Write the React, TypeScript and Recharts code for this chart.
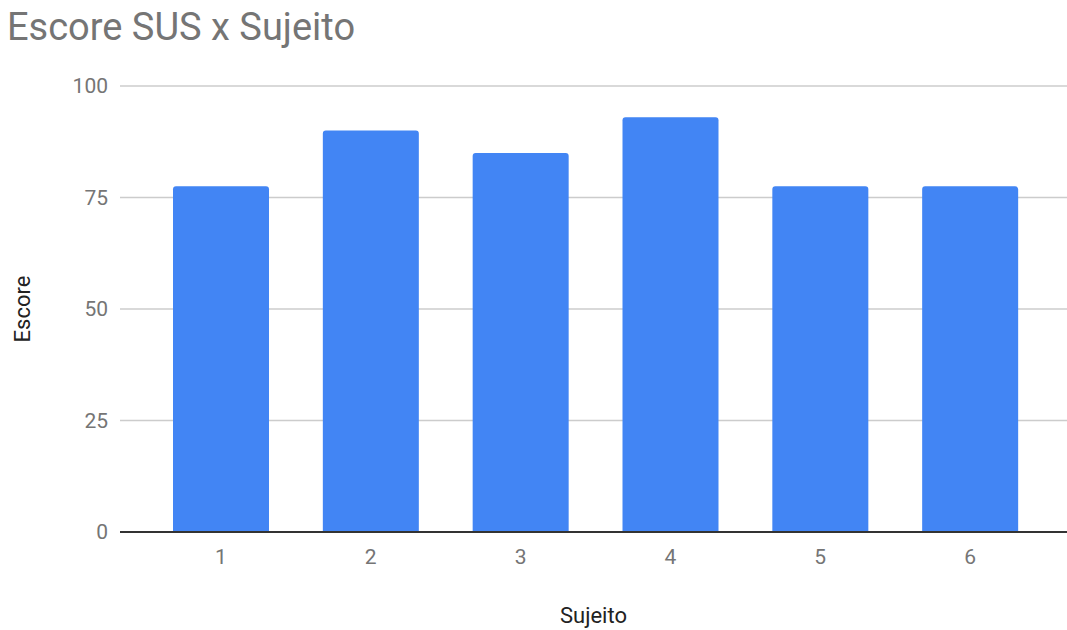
import React from 'react';
import { BarChart, Bar, XAxis, YAxis, CartesianGrid, Label } from 'recharts';

const sujeitos = ['1', '2', '3', '4', '5', '6'];
const escores = [77.5, 90, 85, 93, 77.5, 77.5];
const yTicks = [0, 25, 50, 75, 100];

const data = sujeitos.map((sujeito, i) => ({ sujeito, escore: escores[i] }));

const FONT = 'Roboto, "Noto Sans", sans-serif';

const App: React.FC = () => {
  return (
    <div style={{ position: 'absolute', left: 0, top: 0, width: 1067, height: 630, background: '#fff', fontFamily: FONT }}>
      <div
        style={{
          position: 'absolute',
          left: 7,
          top: 8,
          fontSize: 38,
          lineHeight: '38px',
          color: '#757575',
          whiteSpace: 'nowrap',
        }}
      >
        Escore SUS x Sujeito
      </div>
      <BarChart
        width={1067}
        height={630}
        data={data}
        margin={{ top: 86, right: 0, bottom: 0, left: 0 }}
        barSize={96}
      >
        <CartesianGrid vertical={false} stroke="#cccccc" strokeWidth={1.5} />
        <XAxis
          dataKey="sujeito"
          height={98}
          padding={{ left: 26, right: 22 }}
          tickLine={false}
          axisLine={{ stroke: '#333333', strokeWidth: 2 }}
          tickMargin={11}
          tick={{ fill: '#757575', fontSize: 21, fontFamily: FONT }}
        >
          <Label value="Sujeito" position="insideBottom" offset={7} fill="#222222" fontSize={22} fontFamily={FONT} />
        </XAxis>
        <YAxis
          width={120}
          domain={[0, 100]}
          ticks={yTicks}
          tickLine={false}
          axisLine={false}
          tickMargin={6}
          tick={{ fill: '#757575', fontSize: 21, fontFamily: FONT }}
        >
          <Label value="Escore" angle={-90} position="center" dx={-38} fill="#222222" fontSize={22} fontFamily={FONT} />
        </YAxis>
        <Bar dataKey="escore" fill="#4285f4" radius={[3, 3, 0, 0]} isAnimationActive={false} />
      </BarChart>
    </div>
  );
};

export default App;
